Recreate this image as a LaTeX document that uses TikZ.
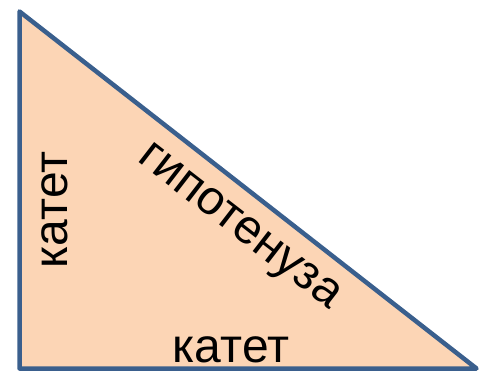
\documentclass[tikz,border=0pt]{standalone}
\usepackage{fontspec}
\setmainfont{Liberation Sans}
\definecolor{triFill}{HTML}{FCD5B5}
\definecolor{triLine}{HTML}{3A5F8D}
\begin{document}
\begin{tikzpicture}[x=1pt,y=1pt,
  lbl/.style={font=\fontsize{48}{54}\selectfont, inner sep=0pt, text=black}]
\useasboundingbox (0,0) rectangle (481,372);
\coordinate (A) at (19.5,360.5);
\coordinate (B) at (19.5,3.5);
\coordinate (C) at (476.5,3.5);
\filldraw[fill=triFill, draw=triLine, line width=4.5pt, line join=round] (A) -- (B) -- (C) -- cycle;
\node[lbl, rotate=90, anchor=base] (left) at (67,162) {катет};
\node[lbl, anchor=base] (bottom) at (231,10) {катет};
\node[lbl, rotate=-37.7, anchor=center] (hyp) at (238,143) {гипотенуза};
\end{tikzpicture}
\end{document}
